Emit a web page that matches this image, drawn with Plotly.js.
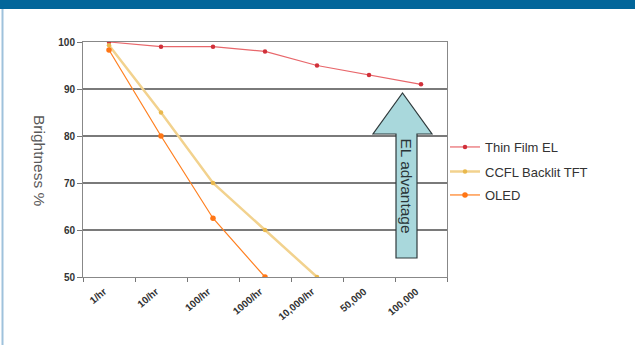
<!DOCTYPE html>
<html>
<head>
<meta charset="utf-8">
<script src="https://cdn.plot.ly/plotly-3.0.1.min.js"></script>
<style>
html,body{margin:0;padding:0;background:#fff;}
#chart{width:635px;height:345px;}
</style>
</head>
<body>
<div id="chart"></div>
<script>
var categories = ["1/hr", "10/hr", "100/hr", "1000/hr", "10,000/hr", "50,000", "100,000"];
var thinFilmEL = [100, 99, 99, 98, 95, 93, 91];
var ccflTFT = [99.3, 85, 70, 60, 50];
var oled = [98.3, 80, 62.5, 50];
var seriesNames = ["Thin Film EL", "CCFL Backlit TFT", "OLED"];
var yTicks = [50, 60, 70, 80, 90, 100];

var L = 83, R = 447, T = 42, B = 277, W = 635, H = 345;
function px(x){ return (x - L) / (R - L); }
function py(y){ return (B - y) / (B - T); }

var traces = [
  {x: categories.slice(0, thinFilmEL.length), y: thinFilmEL, name: seriesNames[0], type: "scatter", mode: "lines+markers",
   legend: "legend", line: {color: "#e8676b", width: 1.2}, marker: {color: "#d1303a", size: 4.5}},
  {x: categories.slice(0, ccflTFT.length), y: ccflTFT, name: seriesNames[1], type: "scatter", mode: "lines+markers",
   legend: "legend2", line: {color: "#f2d28e", width: 2.5}, marker: {color: "#e9b84c", size: 4.5}},
  {x: categories.slice(0, oled.length), y: oled, name: seriesNames[2], type: "scatter", mode: "lines+markers",
   legend: "legend3", line: {color: "#ff7f1f", width: 1.2}, marker: {color: "#ff7615", size: 5.5}}
];

var arrowPath = "M " + px(396) + " " + py(258) +
  " L " + px(396) + " " + py(134) +
  " L " + px(373) + " " + py(134) +
  " L " + px(402.5) + " " + py(93) +
  " L " + px(432) + " " + py(134) +
  " L " + px(417) + " " + py(134) +
  " L " + px(417) + " " + py(258) + " Z";

var legendFont = {family: "Liberation Sans, Arial, sans-serif", size: 13, color: "#333333"};
function legendAt(yc){
  return {x: px(445), y: py(yc), xanchor: "left", yanchor: "middle",
    font: legendFont, bgcolor: "rgba(0,0,0,0)", itemwidth: 30};
}

var layout = {
  width: W, height: H,
  margin: {l: L, r: W - R, t: T, b: H - B, autoexpand: false},
  paper_bgcolor: "#ffffff", plot_bgcolor: "#ffffff",
  showlegend: true,
  legend: legendAt(147),
  legend2: legendAt(171.5),
  legend3: legendAt(195),
  xaxis: {type: "category", categoryorder: "array", categoryarray: categories,
    range: [-0.5, categories.length - 0.5],
    tickson: "boundaries", ticks: "outside", ticklen: 4, tickcolor: "#777777",
    showgrid: false, showline: true, linecolor: "#888888", linewidth: 1, mirror: true,
    tickangle: -40, ticklabelshift: -5, ticklabelstandoff: 4,
    tickfont: {family: "Liberation Sans, Arial, sans-serif", size: 10, color: "#333333", weight: "bold"},
    automargin: false, zeroline: false, fixedrange: true},
  yaxis: {range: [50, 100], tickvals: yTicks, ticktext: yTicks.map(String),
    ticks: "outside", ticklen: 5, tickcolor: "#777777",
    showgrid: true, gridcolor: "#7a7a7a", gridwidth: 1.2,
    showline: true, linecolor: "#888888", linewidth: 1, mirror: true,
    tickfont: {family: "Liberation Sans, Arial, sans-serif", size: 10, color: "#333333", weight: "bold"},
    automargin: false, zeroline: false, fixedrange: true},
  shapes: [
    {type: "rect", xref: "paper", yref: "paper", x0: px(0), x1: px(W), y0: py(9), y1: py(0),
     fillcolor: "#02669a", line: {width: 0}, layer: "above"},
    {type: "line", xref: "paper", yref: "paper", x0: px(2.5), x1: px(2.5), y0: py(9), y1: py(H),
     line: {color: "#9fc2dc", width: 2}},
    {type: "path", xref: "paper", yref: "paper", path: arrowPath,
     fillcolor: "#a9d8dc", line: {color: "#2f3a3c", width: 1.2}, layer: "above"}
  ],
  annotations: [
    {text: "Brightness %", xref: "paper", yref: "paper", x: px(40), y: py(161), showarrow: false,
     textangle: 90, font: {family: "Liberation Sans, Arial, sans-serif", size: 15.5, color: "#5a5a5a"},
     xanchor: "center", yanchor: "middle"},
    {text: "EL advantage", xref: "paper", yref: "paper", x: px(406.5), y: py(186), showarrow: false,
     textangle: 90, font: {family: "Liberation Sans, Arial, sans-serif", size: 15.5, color: "#2a3538"},
     xanchor: "center", yanchor: "middle"}
  ]
};

Plotly.newPlot("chart", traces, layout, {displayModeBar: false, staticPlot: true});
</script>
</body>
</html>
